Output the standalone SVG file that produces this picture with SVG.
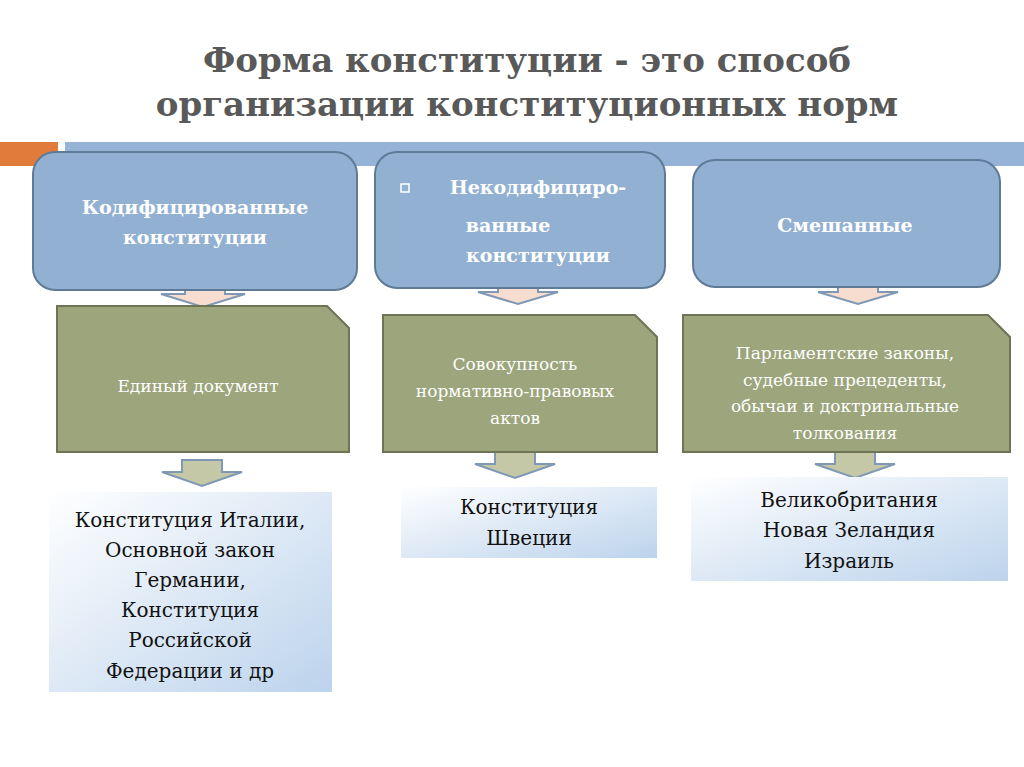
<svg xmlns="http://www.w3.org/2000/svg" width="1024" height="767" viewBox="0 0 1024 767">
<defs>
<linearGradient id="g" x1="0" y1="0" x2="1" y2="1"><stop offset="0" stop-color="#ffffff"/><stop offset="1" stop-color="#bcd3ec"/></linearGradient>
<style>
.title{font-family:"DejaVu Serif","Liberation Serif",serif;font-weight:bold;font-size:34px;fill:#595959;text-anchor:middle}
.hb{fill:#92b1d2;stroke:#5f7a96;stroke-width:2}
.ht{font-family:"DejaVu Serif",serif;font-weight:bold;font-size:19px;fill:#fff;text-anchor:middle}
.ob{fill:#9ca57b;stroke:#6e7454;stroke-width:2}
.ot{font-family:"DejaVu Serif",serif;font-size:17px;fill:#fff;text-anchor:middle}
.bb{fill:url(#g)}
.bt{font-family:"DejaVu Serif",serif;font-size:20px;fill:#111;text-anchor:middle}
.pa{fill:#f6ddcf;stroke:#7f98b5;stroke-width:2}
.ga{fill:#c4c8a7;stroke:#7f98b5;stroke-width:2}
</style>
</defs>
<rect width="1024" height="767" fill="#fff"/>
<text class="title" x="527" y="72">Форма конституции - это способ</text>
<text class="title" x="527" y="116">организации конституционных норм</text>
<rect x="0" y="142" width="58" height="24" fill="#e07b39"/>
<rect x="65" y="142" width="959" height="24" fill="#95b3d7"/>
<g id="connectors">
<path class="pa" d="M185 282h40v12h20l-42 13l-42-13h24z"/>
<path class="pa" d="M498 280h40v12h20l-40 12l-40-12h20z"/>
<path class="pa" d="M838 280h40v12h20l-40 12l-40-12h20z"/>
<path class="ga" d="M182 460h40v12h20l-40 14l-40-14h20z"/>
<path class="ga" d="M495 452h40v12h20l-40 14l-40-14h20z"/>
<path class="ga" d="M835 452h40v12h20l-40 14l-40-14h20z"/>
</g>
<g id="n1"><rect class="hb" x="33" y="152" width="324" height="138" rx="22"/>
<text class="ht" x="195" y="214">Кодифицированные</text><text class="ht" x="195" y="244">конституции</text></g>
<g id="n2"><rect class="hb" x="375" y="152" width="290" height="136" rx="22"/>
<rect x="401" y="184" width="8" height="8" fill="none" stroke="#fff" stroke-width="1.5"/>
<text class="ht" x="538" y="194">Некодифициро-</text><text class="ht" x="508" y="232">ванные</text><text class="ht" x="538" y="262">конституции</text></g>
<g id="n3"><rect class="hb" x="693" y="160" width="307" height="127" rx="22"/>
<text class="ht" x="845" y="232">Смешанные</text></g>
<g id="n4"><path class="ob" d="M57 306h270l22 22v124H57z"/><text class="ot" x="198" y="392" font-size="19">Единый документ</text></g>
<g id="n5"><path class="ob" d="M383 315h252l22 22v115H383z"/>
<text class="ot" x="515" y="370">Совокупность</text><text class="ot" x="515" y="397">нормативно-правовых</text><text class="ot" x="515" y="424">актов</text></g>
<g id="n6"><path class="ob" d="M683 315h305l22 22v115H683z"/>
<text class="ot" x="845" y="359">Парламентские законы,</text><text class="ot" x="845" y="386">судебные прецеденты,</text><text class="ot" x="845" y="412">обычаи и доктринальные</text><text class="ot" x="845" y="439">толкования</text></g>
<g id="n7"><rect class="bb" x="49" y="492" width="283" height="200"/>
<text class="bt" x="190" y="527">Конституция Италии,</text><text class="bt" x="190" y="557">Основной закон</text><text class="bt" x="190" y="587">Германии,</text><text class="bt" x="190" y="617">Конституция</text><text class="bt" x="190" y="647">Российской</text><text class="bt" x="190" y="678">Федерации и др</text></g>
<g id="n8"><rect class="bb" x="401" y="487" width="256" height="71"/>
<text class="bt" x="529" y="514">Конституция</text><text class="bt" x="529" y="545">Швеции</text></g>
<g id="n9"><rect class="bb" x="691" y="477" width="317" height="104"/>
<text class="bt" x="849" y="507">Великобритания</text><text class="bt" x="849" y="537">Новая Зеландия</text><text class="bt" x="849" y="568">Израиль</text></g>
</svg>
